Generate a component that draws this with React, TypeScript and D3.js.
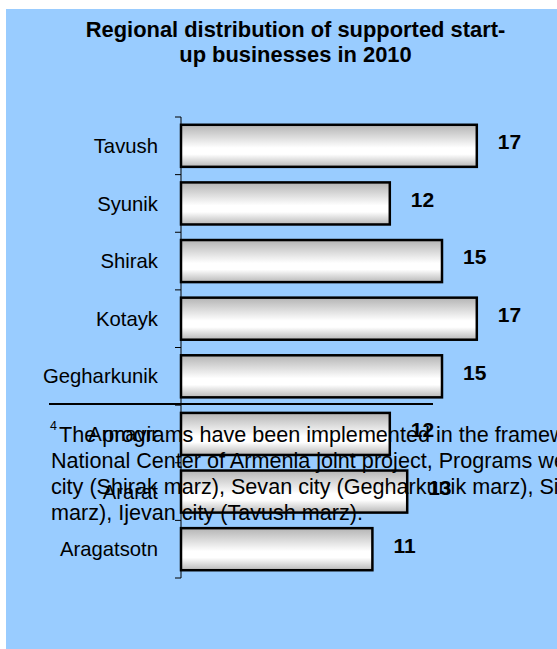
import React from "react";
import * as d3 from "d3";

const regions = [
  "Tavush",
  "Syunik",
  "Shirak",
  "Kotayk",
  "Gegharkunik",
  "Armavir",
  "Ararat",
  "Aragatsotn",
];
const startups = [17, 12, 15, 17, 15, 12, 13, 11];
const titleLines = [
  "Regional distribution of supported start-",
  "up businesses in 2010",
];
const footnoteLines = [
  "The programs have been implemented in the framework of the UNDP and SME DNC",
  "National Center of Armenia joint project, Programs were implemented in Gyumri",
  "city (Shirak marz), Sevan city (Gegharkunik marz), Sisian city (Syunik",
  "marz), Ijevan city (Tavush marz).",
];

const W = 557;
const H = 649;
const font = "'Liberation Sans', Arial, sans-serif";

const App = () => {
  const x = d3.scaleLinear().domain([0, 20]).range([181, 529]);
  const y = d3
    .scaleBand()
    .domain(regions)
    .range([117, 578])
    .paddingInner(0.27)
    .paddingOuter(0.135);
  const step = y.step();
  const ticks = d3.range(regions.length + 1).map((i) => 117 + i * step);
  const mid = (r) => (y(r) as number) + y.bandwidth() / 2;

  return (
    <svg
      width={W}
      height={H}
      style={{ position: "absolute", left: 0, top: 0, background: "#fff" }}
    >
      <defs>
        <linearGradient id="barGrad" x1="0" y1="0" x2="0" y2="1">
          <stop offset="0%" stopColor="#b4b4b4" />
          <stop offset="55%" stopColor="#ffffff" />
          <stop offset="70%" stopColor="#ffffff" />
          <stop offset="100%" stopColor="#b8b8b8" />
        </linearGradient>
      </defs>
      <rect x={6} y={9} width={W - 6} height={H - 9} fill="#99ccff" />

      {titleLines.map((t, i) => (
        <text
          key={t}
          x={295.5}
          y={37 + i * 25}
          textAnchor="middle"
          fontFamily={font}
          fontWeight="bold"
          fontSize={21.9}
          fill="#000"
        >
          {t}
        </text>
      ))}

      {/* axis */}
      <line x1={181} x2={181} y1={117} y2={578} stroke="#000" strokeWidth={1} />
      {ticks.map((t, i) => (
        <line key={i} x1={175} x2={181} y1={t} y2={t} stroke="#000" strokeWidth={1} />
      ))}

      {regions.map((r, i) => (
        <g key={r}>
          <rect
            x={x(0)}
            y={y(r)}
            width={x(startups[i]) - x(0)}
            height={y.bandwidth()}
            fill="url(#barGrad)"
            stroke="#000"
            strokeWidth={2.5}
          />
          <text
            x={158}
            y={mid(r)}
            dy="0.35em"
            textAnchor="end"
            fontFamily={font}
            fontSize={20.3}
            fill="#000"
          >
            {r}
          </text>
          <text
            x={x(startups[i]) + 21}
            y={mid(r) - 4}
            dy="0.35em"
            fontFamily={font}
            fontWeight="bold"
            fontSize={21}
            fill="#000"
          >
            {startups[i]}
          </text>
        </g>
      ))}

      {/* footnote */}
      <line x1={49} x2={433} y1={404} y2={404} stroke="#000" strokeWidth={2} />
      <text x={50} y={430} fontFamily={font} fontSize={12.5} fill="#000">
        4
      </text>
      {footnoteLines.map((t, i) => (
        <text
          key={i}
          x={i === 0 ? 59 : 51}
          y={442 + i * 26}
          fontFamily={font}
          fontSize={21.6}
          fill="#000"
        >
          {t}
        </text>
      ))}
    </svg>
  );
};

export default App;
